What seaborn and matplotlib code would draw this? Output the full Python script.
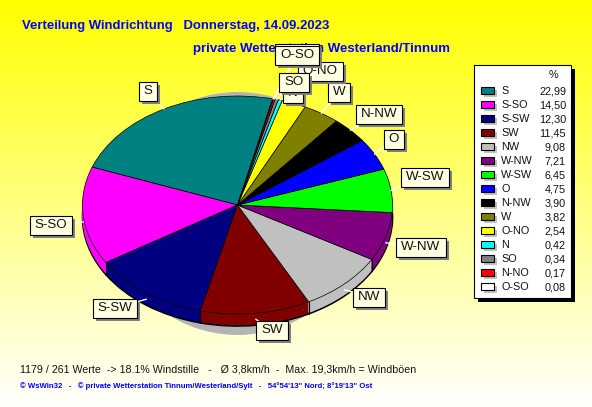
import numpy as np
import matplotlib
matplotlib.use('Agg')
import matplotlib.pyplot as plt
from matplotlib.patches import Rectangle, Ellipse
import seaborn as sns

directions = ['S', 'S-SO', 'S-SW', 'SW', 'NW', 'W-NW', 'W-SW', 'O', 'N-NW', 'W', 'O-NO', 'N', 'SO', 'N-NO', 'O-SO']
shares = [22.99, 14.50, 12.30, 11.45, 9.08, 7.21, 6.45, 4.75, 3.90, 3.82, 2.54, 0.42, 0.34, 0.17, 0.08]
share_labels = ['22,99', '14,50', '12,30', '11,45', '9,08', '7,21', '6,45', '4,75', '3,90', '3,82', '2,54', '0,42', '0,34', '0,17', '0,08']
colors = ['#008080', '#ff00ff', '#000080', '#800000', '#c0c0c0', '#800080', '#00ff00', '#0000ff',
          '#000000', '#808000', '#ffff00', '#00ffff', '#808080', '#ff0000', '#ffffff']

# label box centres in picture pixels
label_pos = {'S': (148, 91), 'S-SO': (51, 225), 'S-SW': (115, 308), 'SW': (272, 330), 'NW': (369, 297),
             'W-NW': (421, 247), 'W-SW': (425, 177), 'O': (394, 139), 'N-NW': (379, 114), 'W': (339, 92),
             'O-NO': (320, 71), 'N': (293, 93), 'N-NO': (297, 53), 'SO': (294, 82), 'O-SO': (297, 55)}

W, H = 592, 407
cx, cy, rx, ry, depth = 237.5, 205, 155, 109, 12
start = 76.9

sns.set_theme(style='white')
plt.rcParams['font.family'] = ['Liberation Sans', 'DejaVu Sans']

fig = plt.figure(figsize=(W / 100, H / 100), dpi=100)

# yellow to white background
ax_bg = fig.add_axes([0, 0, 1, 1])
grad = np.ones((H, 1, 3))
grad[:, 0, 2] = np.linspace(0, 1, H)
ax_bg.imshow(grad, aspect='auto')
ax_bg.axis('off')

# the pie axes: one data unit is rx / ry pixels
ax = fig.add_axes([0, 0, 1, 1])
ax.patch.set_alpha(0)
for off in range(depth, 0, -1):
    lw = 1.2 if off == depth else 0
    ax.pie(shares, colors=colors, center=(0, -off / ry), startangle=start, counterclock=True,
           wedgeprops={'linewidth': lw, 'edgecolor': 'black'}, normalize=True)
ax.pie(shares, colors=colors, startangle=start, counterclock=True,
       wedgeprops={'linewidth': 0.5, 'edgecolor': 'black'}, normalize=True)
ax.add_patch(Ellipse((0, -8.5 / ry), 2 * 125 / rx, 2 * 121.5 / ry, fc='#b4b4b4', ec='none', zorder=0))
ax.set_aspect('auto')
ax.set_xlim(-cx / rx, (W - cx) / rx)
ax.set_ylim(-(H - cy) / ry, cy / ry)
ax.axis('off')

# rim edges on the front half
edges = start + np.cumsum(shares) / sum(shares) * 360
for a in np.radians(edges):
    if np.sin(a) < 0:
        ax.plot([np.cos(a)] * 2, [np.sin(a), np.sin(a) - depth / ry], color='black', lw=0.8)

# everything else in picture pixels
px = fig.add_axes([0, 0, 1, 1])
px.patch.set_alpha(0)
px.set_xlim(0, W)
px.set_ylim(H, 0)
px.axis('off')

# leader lines from the rim to the boxes
mids = start + (np.cumsum(shares) - np.array(shares) / 2) / sum(shares) * 360
for name, mid in zip(directions, np.radians(mids)):
    x0 = cx + rx * np.cos(mid)
    y0 = cy - ry * np.sin(mid) + (depth / 2 if np.sin(mid) < 0 else 0)
    px.plot([x0, label_pos[name][0]], [y0, label_pos[name][1]], color='white', lw=1, zorder=2)

renderer = fig.canvas.get_renderer()
order = ['S', 'S-SO', 'S-SW', 'SW', 'NW', 'W-NW', 'W-SW', 'O', 'N-NW', 'W', 'O-NO', 'N', 'N-NO', 'SO', 'O-SO']
for i, name in enumerate(order):
    x, y = label_pos[name]
    z = 3 + i * 0.1
    t = px.text(x, y, name, fontsize=9.6, color='#111111', ha='center', va='center', zorder=z + 0.02)
    w = t.get_window_extent(renderer).width + 10
    px.add_patch(Rectangle((x - w / 2 + 3, y - 9.5 + 3), w, 19, fc='#808080', ec='none', zorder=z))
    px.add_patch(Rectangle((x - w / 2, y - 9.5), w, 19, fc='#ffffe1', ec='black', lw=0.8, zorder=z + 0.01))

# legend panel
px.add_patch(Rectangle((478, 69), 97, 233, fc='black', ec='none', zorder=5))
px.add_patch(Rectangle((474, 65), 97, 233, fc='white', ec='black', lw=0.8, zorder=5.1))
px.text(553, 75, '%', fontsize=7.8, color='#111111', ha='center', va='center', zorder=6)
for i, (name, val, col) in enumerate(zip(directions, share_labels, colors)):
    y = 91 + i * 14
    px.add_patch(Rectangle((484, y - 1), 13, 7, fc='#c0c0c0', ec='none', zorder=5.5))
    px.add_patch(Rectangle((481, y - 4), 13, 7, fc=col, ec='black', lw=0.8, zorder=5.6))
    px.text(501, y, name, fontsize=7.8, color='#111111', ha='left', va='center', zorder=6)
    px.text(566, y, val, fontsize=7.8, color='#111111', ha='right', va='center', zorder=6)

# titles and footer
px.text(22, 26, 'Verteilung Windrichtung   Donnerstag, 14.09.2023', fontsize=9.45, fontweight='bold',
        color='#0000ff', ha='left', va='center', zorder=1)
px.text(193, 49, 'private Wetterstation Westerland/Tinnum', fontsize=9.5, fontweight='bold',
        color='#0000ff', ha='left', va='center', zorder=1)
px.text(20, 369, '1179 / 261 Werte  -> 18.1% Windstille   -   Ø 3,8km/h  -  Max. 19,3km/h = Windböen',
        fontsize=7.67, color='#111111', ha='left', va='center')
px.text(20, 386, '© WsWin32   -   © private Wetterstation Tinnum/Westerland/Sylt   -   54°54\'13" Nord; 8°19\'13" Ost',
        fontsize=5.55, fontweight='bold', color='#0000ff', ha='left', va='center')

fig.savefig('out.png', dpi=100)
